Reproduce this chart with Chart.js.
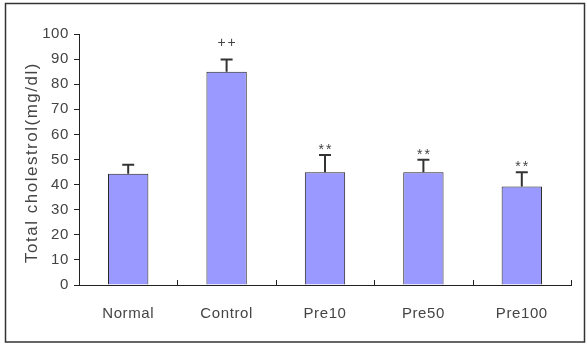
<!DOCTYPE html>
<html>
<head>
<meta charset="utf-8">
<script src="https://cdn.jsdelivr.net/npm/chart.js@4"></script>
<style>
  html, body { margin: 0; padding: 0; background: #fff; }
  #wrap { width: 587px; height: 343px; }
</style>
</head>
<body>
<div id="wrap"><canvas id="chol" width="587" height="343"></canvas></div>
<script>
// data
const groups = ['Normal', 'Control', 'Pre10', 'Pre50', 'Pre100'];
const meanValues = [44.3, 85.0, 44.9, 44.9, 39.2];
const errorValues = [3.6, 4.8, 6.9, 5.0, 5.7];
const marks = ['', '++', '**', '**', '**'];
const yTicks = [0, 10, 20, 30, 40, 50, 60, 70, 80, 90, 100];
const yTitle = 'Total cholestrol(mg/dl)';

const fontFam = '"Liberation Sans", Arial, sans-serif';
const spacing = '0.6px';

// error bars, significance marks, category ticks, axis title and the outer frame
const extras = {
  id: 'extras',
  beforeLayout(chart) { chart.ctx.letterSpacing = spacing; },
  beforeDraw(chart) { chart.ctx.letterSpacing = spacing; },
  afterDatasetsDraw(chart) {
    const ctx = chart.ctx;
    const x = chart.scales.x, y = chart.scales.y;
    const area = chart.chartArea;
    ctx.save();
    ctx.strokeStyle = '#333';
    ctx.fillStyle = '#444';
    meanValues.forEach((v, i) => {
      const px = x.getPixelForValue(i);
      const top = y.getPixelForValue(v + errorValues[i]);
      const base = y.getPixelForValue(v);
      ctx.lineWidth = 2;
      ctx.beginPath();
      ctx.moveTo(px, base);
      ctx.lineTo(px, top);
      ctx.moveTo(px - 6, top);
      ctx.lineTo(px + 6, top);
      ctx.stroke();
      if (marks[i]) {
        ctx.font = '14px ' + fontFam;
        ctx.letterSpacing = '2px';
        ctx.textAlign = 'center';
        ctx.textBaseline = 'middle';
        const off = marks[i] === '++' ? 16 : 5;
        ctx.fillText(marks[i], px + 1, top - off);
      }
    });
    // category ticks pointing up
    ctx.strokeStyle = '#222';
    ctx.lineWidth = 1;
    ctx.beginPath();
    for (let i = 0; i < groups.length; i++) {
      let tx = i < groups.length - 1
        ? (x.getPixelForValue(i) + x.getPixelForValue(i + 1)) / 2
        : area.right;
      tx = Math.round(tx) + 0.5;
      ctx.moveTo(tx, area.bottom);
      ctx.lineTo(tx, area.bottom - 5);
    }
    ctx.stroke();
    // y axis title
    ctx.translate(32, (area.top + area.bottom) / 2 + 3);
    ctx.rotate(-Math.PI / 2);
    ctx.font = '17px ' + fontFam;
    ctx.letterSpacing = '1.5px';
    ctx.textAlign = 'center';
    ctx.textBaseline = 'middle';
    ctx.fillText(yTitle, 0, 0);
    ctx.restore();
  },
  afterDraw(chart) {
    const ctx = chart.ctx;
    ctx.save();
    ctx.strokeStyle = '#333';
    ctx.lineWidth = 1.5;
    ctx.strokeRect(5.5, 3.5, 579, 338.5);
    ctx.restore();
  }
};

new Chart(document.getElementById('chol').getContext('2d'), {
  type: 'bar',
  data: {
    labels: groups,
    datasets: [{
      data: meanValues,
      backgroundColor: '#9999ff',
      borderColor: '#222',
      borderWidth: 1,
      categoryPercentage: 1,
      barPercentage: 0.41
    }]
  },
  options: {
    responsive: false,
    animation: false,
    events: [],
    layout: { padding: { left: 0, right: 16, top: 34, bottom: 0 } },
    plugins: { legend: { display: false }, tooltip: { enabled: false } },
    scales: {
      x: {
        grid: { display: false, drawTicks: false },
        border: { color: '#222', width: 1 },
        ticks: { padding: 20, color: '#444', font: { family: fontFam, size: 15 } },
        afterFit(s) { s.height = 58; }
      },
      y: {
        min: 0,
        max: 100,
        afterBuildTicks(s) { s.ticks = yTicks.map(v => ({ value: v })); },
        grid: { drawOnChartArea: false, tickLength: 5, color: '#222' },
        border: { color: '#222', width: 1 },
        ticks: { padding: 5, color: '#444', font: { family: fontFam, size: 15 } },
        afterFit(s) { s.width = 79; }
      }
    }
  },
  plugins: [extras]
});
</script>
</body>
</html>
